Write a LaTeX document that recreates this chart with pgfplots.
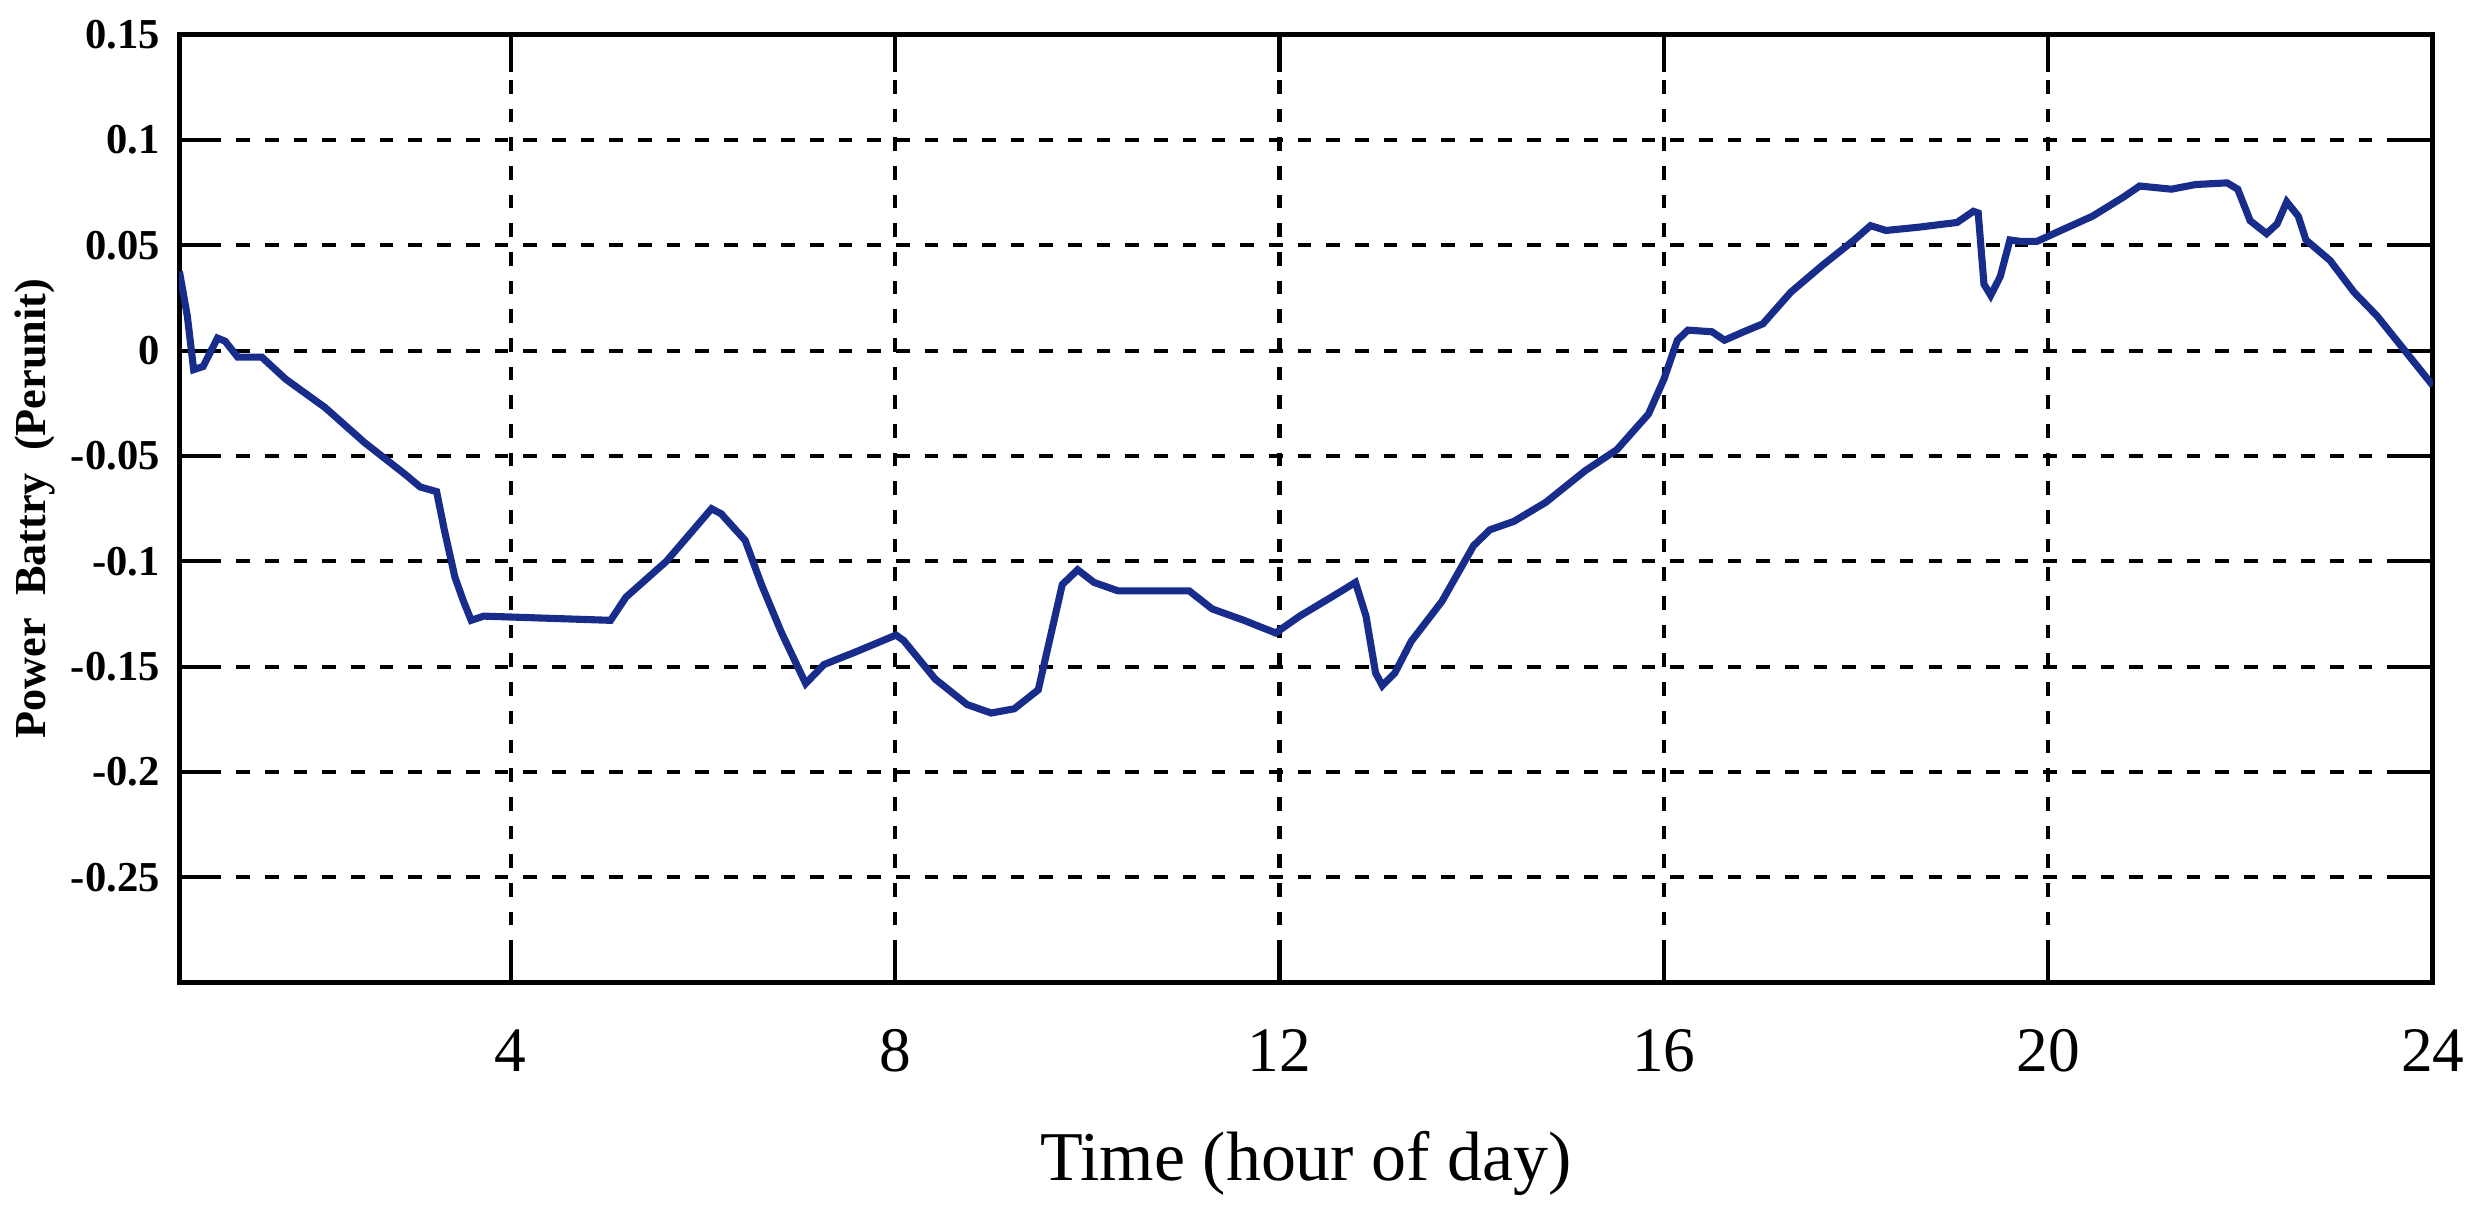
\documentclass[border=0pt]{standalone}
\usepackage{fontspec}
\setmainfont{Liberation Serif}
\usepackage{pgfplots}
\pgfplotsset{compat=1.18}
\definecolor{battblue}{RGB}{24,44,140}

\begin{document}
\begin{tikzpicture}
\begin{axis}[
  scale only axis,
  width=14.5cm, height=6.098cm,
  xmin=0.55, xmax=24,
  ymin=-0.3, ymax=0.15,
  xtick={4,8,12,16,20,24},
  xticklabels={4,8,12,16,20,24},
  ytick={-0.25,-0.2,-0.15,-0.1,-0.05,0,0.05,0.1,0.15},
  yticklabels={-0.25,-0.2,-0.15,-0.1,-0.05,0,0.05,0.1,0.15},
  tick align=inside,
  tick pos=both,
  major tick length=0.24cm,
  major tick style={black, line width=0.75pt},
  grid=major,
  major grid style={black, line width=0.75pt, dash pattern=on 2.5pt off 2.75pt},
  axis line style={black, line width=0.9pt},
  x tick label style={font=\fontsize{11.6}{13}\selectfont, anchor=base, yshift=-0.571cm},
  y tick label style={font=\fontsize{7.8}{9}\selectfont\bfseries},
  xlabel={Time (hour of day)},
  xlabel style={font=\fontsize{12.8}{15}\selectfont, at={(axis description cs:0.5,0)}, anchor=base, yshift=-1.275cm},
  ylabel={Power\ \ Battry\ \ (Perunit)},
  ylabel style={font=\fontsize{8.1}{10}\selectfont\bfseries, at={(axis description cs:-0.064,0.5)}, anchor=center},
]
\coordinate (sw) at (rel axis cs:0,0);
\coordinate (ne) at (rel axis cs:1,1);
\addplot[battblue, line width=1.3pt] coordinates {
  (0.554,0.0376) (0.636,0.0165) (0.702,-0.009) (0.80,-0.0075) (0.95,0.006)
  (1.03,0.0045) (1.16,-0.003) (1.41,-0.003) (1.66,-0.0135) (2.07,-0.027)
  (2.48,-0.0436) (2.90,-0.0586) (3.06,-0.0647) (3.23,-0.0669) (3.31,-0.085)
  (3.42,-0.1075) (3.51,-0.119) (3.59,-0.128) (3.72,-0.126) (5.04,-0.128)
  (5.20,-0.117) (5.62,-0.100) (6.09,-0.075) (6.19,-0.0774) (6.44,-0.090)
  (6.61,-0.111) (6.82,-0.134) (7.07,-0.158) (7.26,-0.149) (7.59,-0.143)
  (8.01,-0.135) (8.09,-0.1376) (8.42,-0.156) (8.75,-0.168) (9.00,-0.172)
  (9.24,-0.170) (9.49,-0.161) (9.57,-0.145) (9.74,-0.111) (9.90,-0.104)
  (10.07,-0.110) (10.32,-0.114) (11.06,-0.114) (11.30,-0.1226) (11.63,-0.128)
  (11.96,-0.134) (12.21,-0.126) (12.54,-0.117) (12.79,-0.110) (12.90,-0.126)
  (13.00,-0.153) (13.07,-0.159) (13.20,-0.153) (13.37,-0.138) (13.69,-0.119)
  (14.02,-0.0925) (14.19,-0.085) (14.44,-0.081) (14.77,-0.072) (15.18,-0.057)
  (15.51,-0.047) (15.84,-0.030) (16.00,-0.0135) (16.14,0.005) (16.25,0.0098)
  (16.50,0.009) (16.63,0.005) (16.83,0.009) (17.03,0.0128) (17.32,0.0278)
  (17.65,0.0406) (17.98,0.0526) (18.15,0.0594) (18.31,0.0571) (18.64,0.0586)
  (19.05,0.0609) (19.22,0.0662) (19.27,0.0654) (19.33,0.0316) (19.40,0.0263)
  (19.50,0.0353) (19.60,0.0526) (19.71,0.0519) (19.88,0.0519) (20.13,0.0571)
  (20.46,0.0639) (20.78,0.0729) (20.95,0.0782) (21.28,0.0767) (21.53,0.0789)
  (21.86,0.0797) (21.97,0.0767) (22.10,0.0617) (22.27,0.0556) (22.38,0.0602)
  (22.48,0.0707) (22.60,0.0639) (22.68,0.0526) (22.93,0.0429) (23.18,0.0278)
  (23.42,0.0165) (23.75,-0.0023) (24.00,-0.0165)
};
\end{axis}
\pgfresetboundingbox
\path ([xshift=-1.152cm,yshift=-1.428cm]sw) rectangle ([xshift=0.336cm,yshift=0.224cm]ne);
\end{tikzpicture}
\end{document}
